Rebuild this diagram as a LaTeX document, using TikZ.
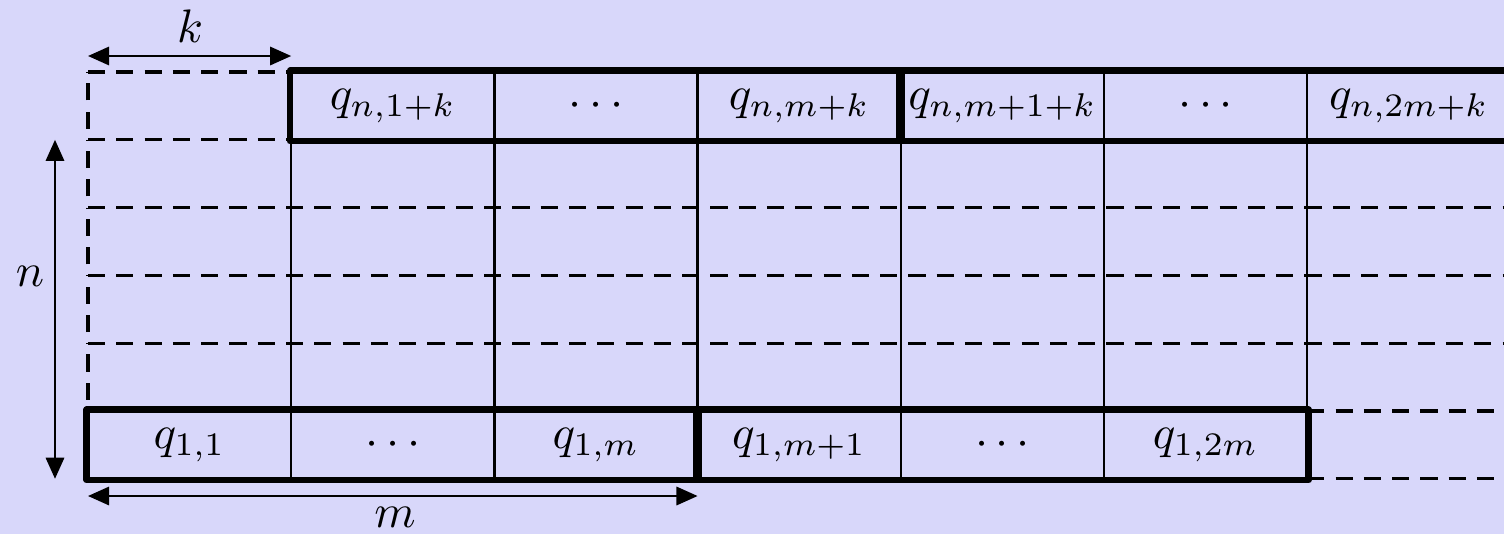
\documentclass[tikz,border=0pt]{standalone}
\usetikzlibrary{arrows.meta}
\definecolor{bgcol}{RGB}{216,215,250}
\begin{document}
\begin{tikzpicture}[x=0.2128pt,y=-0.2128pt,
  cell/.style={draw,line width=0.5pt,minimum width=43.24pt,minimum height=14.43pt,inner sep=0pt,anchor=center},
  thickbox/.style={line width=1.45pt,line join=round},
  dsh/.style={line width=0.65pt,dash pattern=on 3.65pt off 2.37pt},
  vdsh/.style={dsh,dash phase=3.65pt},
  thinline/.style={line width=0.5pt},
  dim/.style={line width=0.5pt,{Triangle[length=4.5pt,width=3.9pt]}-{Triangle[length=4.5pt,width=3.9pt]}}]
\fill[bgcol] (0,0) rectangle (1504,534);
\useasboundingbox (0,0) rectangle (1504,534);
\clip (0,0) rectangle (1504,534);
% dashed guide lines
\draw[dsh] (88,72) -- (291.2,72);
\draw[dsh] (88,139.8) -- (291.2,139.8);
\foreach \yy in {207.6,275.4,343.2} \draw[dsh] (88,\yy) -- (1510,\yy);
\draw[dsh] (1307.2,411) -- (1510,411);
\draw[dsh] (1307.2,478.8) -- (1510,478.8);
\foreach \ya/\yb in {139.8/72,207.6/139.8,275.4/207.6,343.2/275.4,411/343.2}
  \draw[vdsh] (88,\ya) -- (88,\yb);
% thin verticals in middle region
\foreach \xx in {291.2,494.4,697.6,900.8,1104,1307.2} \draw[thinline] (\xx,139.8) -- (\xx,411);
% bottom row
\node[cell] (b1) at (189.6,444.9) {$q_{1,1}$};
\node[cell] (b2) at (392.8,444.9) {$\cdots$};
\node[cell] (b3) at (596,444.9) {$q_{1,m}$};
\node[cell] (b4) at (799.2,444.9) {$q_{1,m+1}$};
\node[cell] (b5) at (1002.4,444.9) {$\cdots$};
\node[cell] (b6) at (1205.6,444.9) {$q_{1,2m}$};
% top row
\node[cell] (t1) at (392.8,105.9) {$q_{n,1+k}$};
\node[cell] (t2) at (596,105.9) {$\cdots$};
\node[cell] (t3) at (799.2,105.9) {$q_{n,m+k}$};
\node[cell] (t4) at (1002.4,105.9) {$q_{n,m+1+k}$};
\node[cell] (t5) at (1205.6,105.9) {$\cdots$};
\node[cell] (t6) at (1408.8,105.9) {$q_{n,2m+k}$};
% thick groups
\draw[thickbox] (b1.north west) rectangle (b3.south east);
\draw[thickbox] (b4.north west) rectangle (b6.south east);
\draw[thickbox] (t1.north west) rectangle (t3.south east);
\draw[thickbox] (t4.north west) rectangle (t6.south east);
% dimension arrows
\coordinate (kL) at (88,56);
\coordinate (kR) at (291.2,56);
\draw[dim] (kL) -- (kR);
\node (klab) at (190,26) {$k$};
\coordinate (nT) at (55,139.8);
\coordinate (nB) at (55,478.8);
\draw[dim] (nT) -- (nB);
\node (nlab) at (30,276) {$n$};
\coordinate (mL) at (88,496);
\coordinate (mR) at (697.6,496);
\draw[dim] (mL) -- (mR);
\node (mlab) at (395,517) {$m$};
\end{tikzpicture}
\end{document}
